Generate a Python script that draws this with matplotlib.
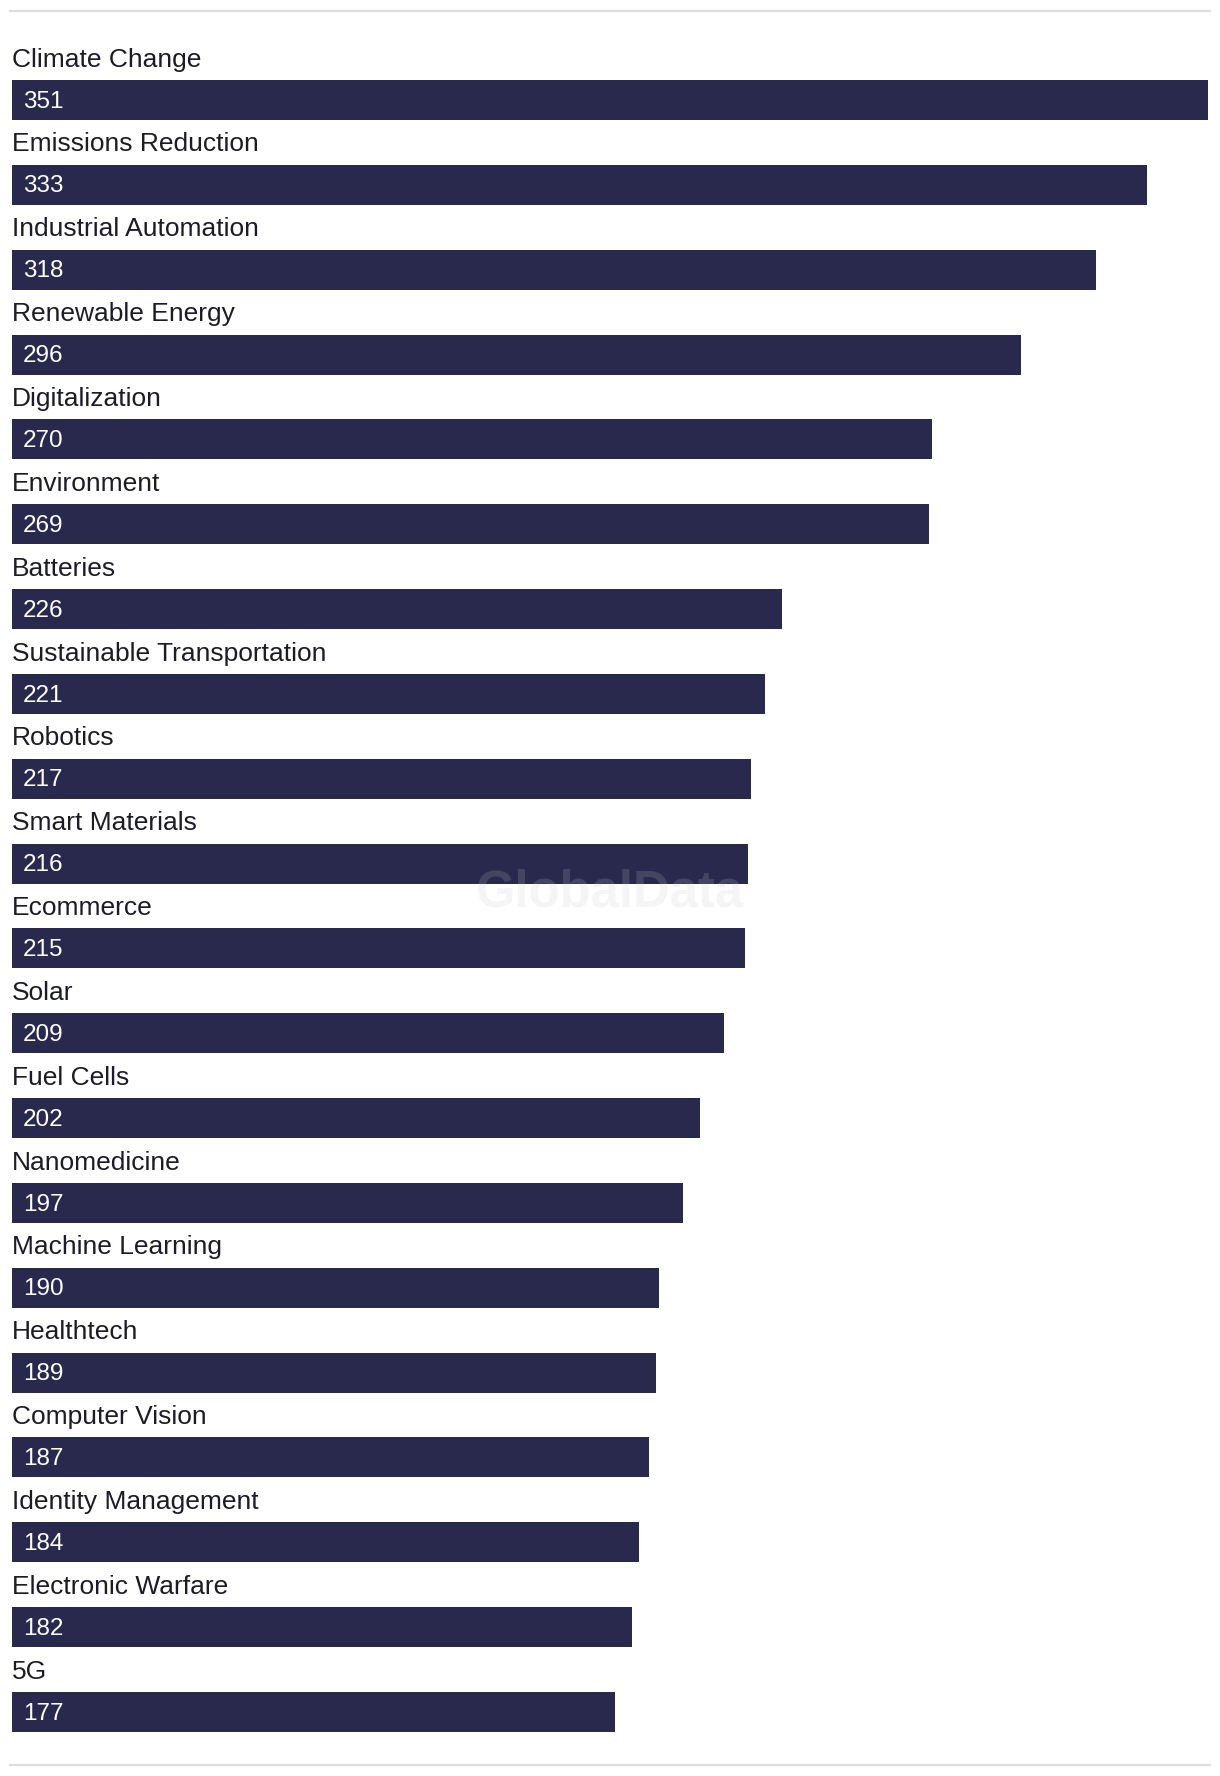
import matplotlib.pyplot as plt
from matplotlib.lines import Line2D

plt.rcParams['font.family'] = ['Liberation Sans', 'DejaVu Sans']

# data
themes = ['Climate Change', 'Emissions Reduction', 'Industrial Automation', 'Renewable Energy',
          'Digitalization', 'Environment', 'Batteries', 'Sustainable Transportation', 'Robotics',
          'Smart Materials', 'Ecommerce', 'Solar', 'Fuel Cells', 'Nanomedicine',
          'Machine Learning', 'Healthtech', 'Computer Vision', 'Identity Management',
          'Electronic Warfare', '5G']
counts = [351, 333, 318, 296, 270, 269, 226, 221, 217, 216, 215, 209, 202, 197,
          190, 189, 187, 184, 182, 177]

bar_color = '#29294d'
W, H = 1220, 1776
fig = plt.figure(figsize=(W / 100, H / 100), dpi=100)

# axes placed in pixels: x 12..1208, bar centres from y=100 to y=1712
pitch = (1712 - 100) / (len(themes) - 1)
top_px = 100 - pitch
bot_px = 1712 + 0.5 * pitch
ax = fig.add_axes([12 / W, 1 - bot_px / H, 1196 / W, (bot_px - top_px) / H])

ypos = list(range(len(themes)))
ax.barh(ypos, counts, height=40 / pitch, color=bar_color)
ax.set_xlim(0, max(counts))
ax.set_ylim(len(themes) - 0.5, -1)
ax.axis('off')

for i, (name, v) in enumerate(zip(themes, counts)):
    ax.text(0, i - 0.393, name, fontsize=19, color='#1c1c28', ha='left', va='baseline')
    ax.text(max(counts) * 0.009, i + 0.09, str(v), fontsize=17.5, color='white',
            ha='left', va='baseline')

# thin separator lines at top and bottom
fig.add_artist(Line2D([10 / W, 1210 / W], [1 - 11 / H, 1 - 11 / H], color='#dddddd', lw=1.5))
fig.add_artist(Line2D([10 / W, 1210 / W], [1 - 1765 / H, 1 - 1765 / H], color='#dddddd', lw=1.5))

# watermark
fig.text(610 / W, 1 - 893 / H, 'GlobalData', fontsize=36.5, fontweight='bold',
         color='#c8c8c8', alpha=0.18, ha='center', va='center')

fig.savefig('out.png', dpi=100)
